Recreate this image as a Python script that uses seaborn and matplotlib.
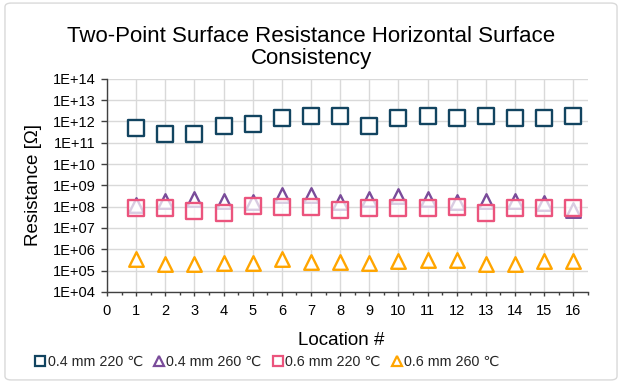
import matplotlib
matplotlib.use("Agg")
import matplotlib.pyplot as plt
import seaborn as sns
import pandas as pd
import numpy as np
from matplotlib.ticker import FixedLocator, NullLocator
from matplotlib.patches import FancyBboxPatch
from matplotlib.lines import Line2D

locations = list(range(1, 17))
series_names = ["0.4 mm 220 \u2103", "0.4 mm 260 \u2103", "0.6 mm 220 \u2103", "0.6 mm 260 \u2103"]
r_04_220 = [5e11, 2.5e11, 2.5e11, 6e11, 7.5e11, 1.5e12, 1.8e12, 1.8e12,
            6e11, 1.5e12, 1.8e12, 1.5e12, 1.8e12, 1.5e12, 1.5e12, 1.8e12]
r_04_260 = [1.2e8, 1.9e8, 2.2e8, 1.9e8, 1.6e8, 3.5e8, 3.5e8, 1.6e8,
            2.2e8, 3.1e8, 2.2e8, 1.6e8, 1.9e8, 1.9e8, 1.5e8, 7e7]
r_06_220 = [8.5e7, 8.5e7, 6.3e7, 5.3e7, 1.1e8, 9.8e7, 9.8e7, 7e7,
            8.5e7, 8.5e7, 8.5e7, 9.8e7, 5.3e7, 8.5e7, 8.5e7, 8.5e7]
r_06_260 = [3.4e5, 2e5, 2e5, 2.3e5, 2.3e5, 3.6e5, 2.6e5, 2.6e5,
            2.3e5, 2.7e5, 3.2e5, 3.3e5, 2e5, 2e5, 2.7e5, 2.7e5]
x_ticks = list(range(0, 17))
y_ticks = [1e4, 1e5, 1e6, 1e7, 1e8, 1e9, 1e10, 1e11, 1e12, 1e13, 1e14]
y_tick_labels = ["1E+04", "1E+05", "1E+06", "1E+07", "1E+08", "1E+09",
                 "1E+10", "1E+11", "1E+12", "1E+13", "1E+14"]

sns.set_theme(style="white")
plt.rcParams["font.family"] = ["Liberation Sans", "DejaVu Sans"]

fig = plt.figure(figsize=(6.22, 3.83), dpi=100)
ax = fig.add_axes([0.172, 0.238, 0.773, 0.556])

# outer chart border
border = FancyBboxPatch((0.008, 0.008), 0.984, 0.984, boxstyle="round,pad=0,rounding_size=0.01",
                        transform=fig.transFigure, facecolor="white", edgecolor="#d9d9d9",
                        linewidth=1.0, zorder=-10)
fig.patches.append(border)

colors = ["#124460", "#7A4C9A", "#EB547D", "#FFA500"]
markers = ["s", "^", "s", "^"]
sizes = [120, 110, 120, 110]
faces = ["white", "white", (1, 1, 1, 0.72), "white"]
data = [r_04_220, r_04_260, r_06_220, r_06_260]

for i, (name, vals) in enumerate(zip(series_names, data)):
    df = pd.DataFrame({"Location": locations, "Resistance": vals})
    sns.scatterplot(data=df, x="Location", y="Resistance", ax=ax, marker=markers[i],
                    s=sizes[i], facecolor=faces[i], edgecolor=colors[i], linewidth=1.7,
                    zorder=3 + i, legend=False)

ax.set_yscale("log")
ax.set_ylim(1e4, 1e14)
ax.set_xlim(0, 16.5)
ax.set_yticks(y_ticks)
ax.set_yticklabels(y_tick_labels)
ax.yaxis.set_minor_locator(NullLocator())
ax.set_xticks(x_ticks)
ax.set_xticklabels([str(v) for v in x_ticks])
ax.xaxis.set_minor_locator(FixedLocator(np.arange(0.5, 16.6, 1.0)))

ax.grid(True, which="major", color="#d9d9d9", linewidth=1.0, zorder=0)
ax.set_axisbelow(True)
for s in ["top", "right"]:
    ax.spines[s].set_visible(False)
for s in ["left", "bottom"]:
    ax.spines[s].set_color("#404040")
    ax.spines[s].set_linewidth(1.0)

ax.tick_params(axis="y", which="major", direction="out", length=4, width=1, color="#404040",
               labelsize=10.5, labelcolor="black", left=True, pad=4)
ax.tick_params(axis="x", which="major", direction="out", length=3, width=1, color="#404040",
               labelsize=10.5, labelcolor="black", bottom=True, pad=6)
ax.tick_params(axis="x", which="minor", direction="out", length=2, width=1, color="#404040",
               bottom=True)

ax.set_xlabel("Location #", fontsize=13.5, color="black")
ax.xaxis.set_label_coords(0.487, -0.19)
ax.set_ylabel("Resistance [\u03a9]", fontsize=13.5, color="black", labelpad=8)
fig.suptitle("Two-Point Surface Resistance Horizontal Surface\nConsistency",
             fontsize=16, y=0.932, color="black", linespacing=1.05)

handles = [Line2D([0], [0], linestyle="none", marker=markers[i], markersize=7.5,
                  markerfacecolor="white", markeredgecolor=colors[i], markeredgewidth=1.6)
           for i in range(4)]
fig.legend(handles, series_names, loc="center", bbox_to_anchor=(0.43, 0.055), ncol=4,
           frameon=False, fontsize=10.3, handlelength=0.7, handletextpad=0.15,
           columnspacing=0.8, borderaxespad=0)

fig.savefig("out.png", dpi=100)
